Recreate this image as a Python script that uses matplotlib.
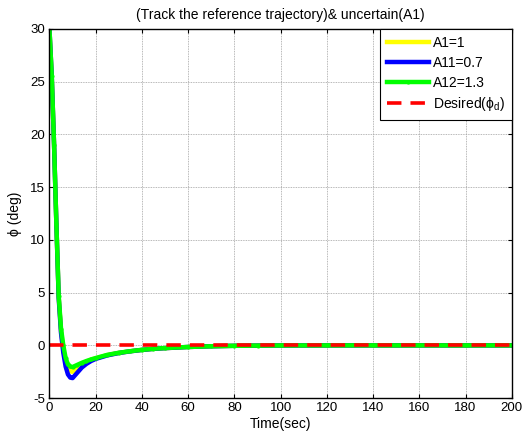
import matplotlib
matplotlib.use("Agg")
import matplotlib.pyplot as plt
import numpy as np

# time (sec)
t = [0, 1, 2, 3, 4, 5, 6, 7, 8, 9, 10, 12, 14, 16, 18, 20, 25, 30, 35, 40,
     45, 50, 60, 70, 80, 90, 100, 120, 140, 160, 180, 200]

# phi (deg) for each uncertainty case
phi_a1 = [30, 25.5, 19, 11.5, 4.6, 1.4, -0.4, -1.5, -2.2, -2.45, -2.5, -2.15, -1.8,
          -1.55, -1.35, -1.22, -0.92, -0.71, -0.55, -0.43, -0.33, -0.26, -0.15,
          -0.08, -0.04, -0.02, -0.01, 0, 0, 0, 0, 0]
phi_a11 = [30, 25.5, 19, 11.5, 4.5, 1.2, -0.7, -2.0, -2.75, -3.05, -3.1, -2.6, -2.1,
           -1.75, -1.48, -1.28, -0.95, -0.72, -0.56, -0.43, -0.33, -0.26, -0.15,
           -0.08, -0.04, -0.02, -0.01, 0, 0, 0, 0, 0]
phi_a12 = [30, 25.5, 19, 11.5, 4.7, 1.6, 0.0, -1.2, -1.8, -2.0, -2.05, -1.85, -1.65,
           -1.48, -1.33, -1.2, -0.9, -0.7, -0.55, -0.42, -0.32, -0.25, -0.15,
           -0.08, -0.04, -0.02, -0.01, 0, 0, 0, 0, 0]
phi_desired = [0, 0]
t_desired = [0, 200]

plt.rcParams['font.family'] = ['Liberation Sans', 'DejaVu Sans']
plt.rcParams['mathtext.fontset'] = 'custom'
plt.rcParams['mathtext.rm'] = 'Liberation Sans'
plt.rcParams['mathtext.it'] = 'Liberation Sans'
plt.rcParams['axes.unicode_minus'] = False

fig = plt.figure(figsize=(5.26, 4.38), dpi=100)
ax = fig.add_axes([0.094, 0.091, 0.879, 0.843])

ax.plot(t, phi_a1, color='#ffff00', lw=3.2, label='A1=1')
ax.plot(t, phi_a11, color='#0000ff', lw=3.2, label='A11=0.7')
ax.plot(t, phi_a12, color='#00ff00', lw=3.2, marker='.', markersize=4, label='A12=1.3')
ax.plot(t_desired, phi_desired, color='#ff0000', lw=2.6, ls=(0, (4, 2.5)),
        label='Desired($\\phi_d$)')

ax.set_xlim(0, 200)
ax.set_ylim(-5, 30)
ax.set_xticks(np.arange(0, 201, 20))
ax.set_yticks(np.arange(-5, 31, 5))
ax.grid(True, ls=(0, (1, 1)), color='#a0a0a0', lw=0.6)
ax.tick_params(direction='in', top=True, right=True, labelsize=9.5, length=3, pad=3)
for s in ax.spines.values():
    s.set_linewidth(1.0)

ax.set_title('(Track the reference trajectory)& uncertain(A1)', fontsize=10, pad=7)
ax.set_xlabel('Time(sec)', fontsize=10, labelpad=2)
ax.set_ylabel('ϕ (deg)', fontsize=10, labelpad=6)

leg = ax.legend(loc='upper right', fontsize=10, frameon=True, fancybox=False,
                edgecolor='black', framealpha=1, borderaxespad=0.0,
                handlelength=3.0, handletextpad=0.3, labelspacing=0.42, borderpad=0.5)
leg.get_frame().set_linewidth(0.8)

fig.savefig('out.png', dpi=100)
